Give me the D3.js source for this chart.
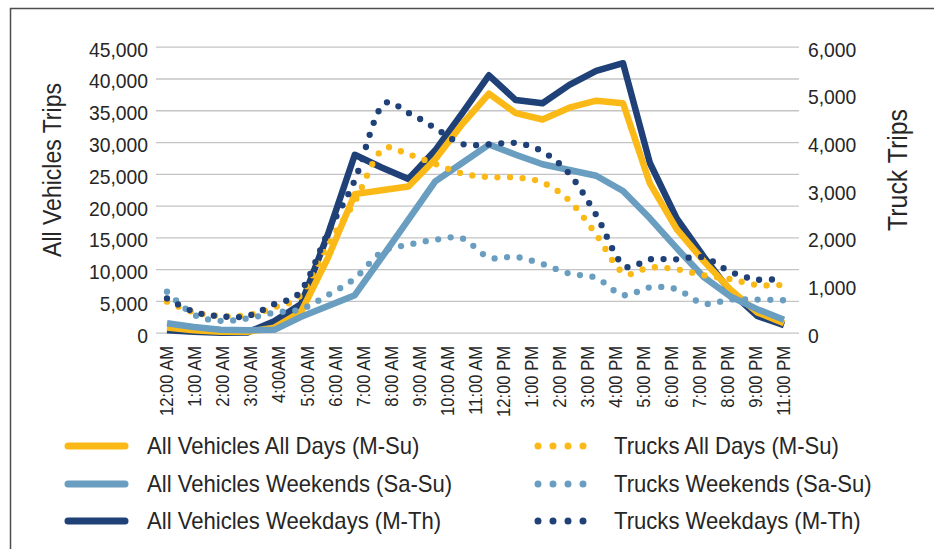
<!DOCTYPE html>
<html>
<head>
<meta charset="utf-8">
<script src="https://cdn.jsdelivr.net/npm/d3@7"></script>
<style>
  html, body { margin: 0; padding: 0; background: #ffffff; }
  svg { display: block; }
  text { font-family: "Liberation Sans", Arial, sans-serif; fill: #262626; }
</style>
</head>
<body>
<svg id="chart" width="934" height="549"></svg>
<script>
// ---- data ----
const hours = ["12:00 AM","1:00 AM","2:00 AM","3:00 AM","4:00 AM","5:00 AM","6:00 AM","7:00 AM",
  "8:00 AM","9:00 AM","10:00 AM","11:00 AM","12:00 PM","1:00 PM","2:00 PM","3:00 PM","4:00 PM",
  "5:00 PM","6:00 PM","7:00 PM","8:00 PM","9:00 PM","10:00 PM","11:00 PM"];
const tickLabels = ["12:00 AM","1:00 AM","2:00 AM","3:00 AM","4:00AM","5:00 AM","6:00 AM","7:00 AM",
  "8:00 AM","9:00 AM","10:00 AM","11:00 AM","12:00 PM","1:00 PM","2:00 PM","3:00 PM","4:00 PM",
  "5:00 PM","6:00 PM","7:00 PM","8:00 PM","9:00 PM","11:00 PM"];
const leftTicks = [0,5000,10000,15000,20000,25000,30000,35000,40000,45000];
const rightTicks = [0,1000,2000,3000,4000,5000,6000];

const avAllDays  = [800,400,150,150,800,3300,11800,21800,22400,23000,27300,32800,37600,34550,33550,35400,36500,36100,23500,16300,11300,6800,3200,1500];
const avWeekends = [1500,900,450,400,450,2500,4200,5900,11800,17800,23800,26700,29600,28000,26500,25600,24700,22300,18000,13300,8800,5700,3700,2050];
const avWeekdays = [400,150,0,50,1800,4500,15500,28000,26000,24200,28700,34500,40500,36600,36100,39000,41200,42400,26700,18000,12000,6500,2650,1200];
const trAllDays  = [650,430,350,370,530,800,1850,2750,3830,3740,3540,3340,3265,3255,3150,2770,2060,1260,1370,1330,1205,1125,1000,1005];
const trWeekends = [860,380,250,300,420,495,790,1140,1690,1845,1950,1980,1580,1590,1440,1240,1150,790,950,910,610,695,695,680];
const trWeekdays = [720,440,345,350,600,880,2100,3200,4750,4610,4290,3960,3950,3980,3800,3330,2470,1420,1540,1540,1580,1280,1115,1140];

const ORANGE = "#FBB917", LBLUE = "#6A9EC1", NAVY = "#1F4178";

const series = [
  {name:"All Vehicles All Days (M-Su)", values:avAllDays, color:ORANGE, axis:"L", dotted:false},
  {name:"Trucks All Days (M-Su)", values:trAllDays, color:ORANGE, axis:"R", dotted:true},
  {name:"All Vehicles Weekends (Sa-Su)", values:avWeekends, color:LBLUE, axis:"L", dotted:false},
  {name:"Trucks Weekends (Sa-Su)", values:trWeekends, color:LBLUE, axis:"R", dotted:true},
  {name:"All Vehicles Weekdays (M-Th)", values:avWeekdays, color:NAVY, axis:"L", dotted:false},
  {name:"Trucks Weekdays (M-Th)", values:trWeekdays, color:NAVY, axis:"R", dotted:true}
];

// ---- layout ----
const svg = d3.select("#chart");
const plotL = 156, plotR = 799, plotT = 46.7, plotB = 332.7;

const x = d3.scalePoint().domain(hours).range([167, 784]);
const xLab = d3.scalePoint().domain(tickLabels).range([167, 784]);
const yL = d3.scaleLinear().domain([0,45000]).range([plotB, plotT]);
const yR = d3.scaleLinear().domain([0,6000]).range([plotB, plotT]);

// border
svg.append("path").attr("d","M10.5,560V8.5H934").attr("fill","none")
  .attr("stroke","#4d4d4d").attr("stroke-width",1.5);

// left axis with gridlines
const gL = svg.append("g").attr("transform",`translate(${plotL},0)`)
  .call(d3.axisLeft(yL).tickValues(leftTicks).tickFormat(d3.format(","))
    .tickSizeInner(-(plotR-plotL)).tickSizeOuter(0).tickPadding(8));
gL.select(".domain").remove();
gL.selectAll(".tick line").attr("stroke","#c4c4c4").attr("stroke-width",1.3);
gL.selectAll(".tick text").attr("font-size",21).attr("dy","0.45em").attr("fill","#262626");

// right axis
const gR = svg.append("g").attr("transform",`translate(${plotR},0)`)
  .call(d3.axisRight(yR).tickValues(rightTicks).tickFormat(d3.format(","))
    .tickSize(0).tickPadding(9));
gR.select(".domain").remove();
gR.selectAll(".tick text").attr("font-size",21).attr("dy","0.45em").attr("fill","#262626");

// x labels
const gX = svg.append("g");
gX.selectAll("text").data(tickLabels).join("text")
  .attr("transform", d => `translate(${xLab(d)},346) rotate(-90)`)
  .attr("text-anchor","end").attr("dy","0.35em").attr("font-size",18)
  .text(d => d);

// axis titles
svg.append("text").attr("transform","translate(52,170) rotate(-90)")
  .attr("text-anchor","middle").attr("dy","0.35em").attr("font-size",25)
  .text("All Vehicles Trips");
svg.append("text").attr("transform","translate(898,170) rotate(-90)")
  .attr("text-anchor","middle").attr("dy","0.35em").attr("font-size",27)
  .text("Truck Trips");

// lines
const lineL = d3.line().x((d,i)=>x(hours[i])).y(d=>yL(d));
const lineR = d3.line().x((d,i)=>x(hours[i])).y(d=>yR(d)).curve(d3.curveCardinal.tension(0));

const solidOrder = [4,0,2];
solidOrder.forEach(k => {
  const s = series[k];
  svg.append("path").datum(s.values).attr("d", lineL)
    .attr("fill","none").attr("stroke", s.color).attr("stroke-width",6.5)
    .attr("stroke-linejoin","round").attr("stroke-linecap","butt");
});
[1,3,5].forEach(k => {
  const s = series[k];
  svg.append("path").datum(s.values).attr("d", lineR)
    .attr("fill","none").attr("stroke", s.color).attr("stroke-width",6.3)
    .attr("stroke-linecap","round").attr("stroke-dasharray","0 12.6");
});

// legend
const rowsY = [446, 484, 521];
const leg = svg.append("g");
series.forEach((s,i) => {
  const row = Math.floor(i/2);
  const yy = rowsY[row];
  if (!s.dotted) {
    leg.append("line").attr("x1",68).attr("x2",125).attr("y1",yy).attr("y2",yy)
      .attr("stroke",s.color).attr("stroke-width",7).attr("stroke-linecap","round");
    leg.append("text").attr("x",147).attr("y",yy).attr("dy","0.35em").attr("font-size",24).text(s.name);
  } else {
    leg.append("line").attr("x1",538).attr("x2",598).attr("y1",yy).attr("y2",yy)
      .attr("stroke",s.color).attr("stroke-width",7).attr("stroke-linecap","round")
      .attr("stroke-dasharray","0 15");
    leg.append("text").attr("x",614).attr("y",yy).attr("dy","0.35em").attr("font-size",24).text(s.name);
  }
});

// condense all text horizontally (narrow typeface look)
svg.selectAll("text").each(function(){
  const w = this.getComputedTextLength();
  if (w > 0) {
    d3.select(this).attr("textLength", w*0.92).attr("lengthAdjust","spacingAndGlyphs");
  }
});
</script>
</body>
</html>
